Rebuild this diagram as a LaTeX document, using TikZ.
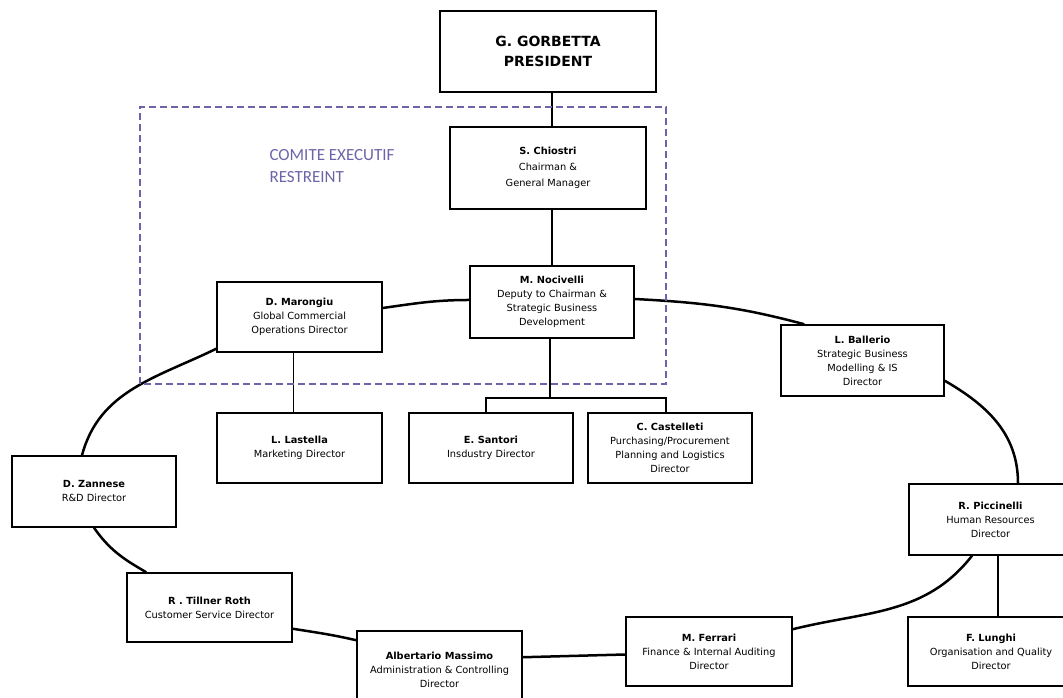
\documentclass[tikz,border=0pt]{standalone}
\usepackage{fontspec}
\setmainfont{DejaVu Sans}
\newfontfamily\comitefont{Carlito}
\definecolor{comite}{RGB}{108,100,168}

\begin{document}
\begin{tikzpicture}[x=1pt,y=1pt,
  box/.style={draw, line width=1.5pt, fill=white, align=center, inner sep=0pt,
    minimum width=165pt, minimum height=70pt, font=\fontsize{9.8}{14}\selectfont},
  ring/.style={line width=2.5pt},
  tree/.style={line width=1.5pt}]
\useasboundingbox (0,0) rectangle (1063,698);

% top of the chart
\node[box, minimum width=216pt, minimum height=81pt, font=\bfseries\fontsize{14}{20}\selectfont] (pres) at (548,646.5) {G. GORBETTA\\PRESIDENT};
\node[box, minimum width=196pt, minimum height=82pt, font=\fontsize{9.8}{16}\selectfont] (chio) at (548,530) {\textbf{S. Chiostri}\\Chairman \&\\General Manager};
\node[box, minimum width=164pt, minimum height=72pt] (noci) at (552,396) {\textbf{M. Nocivelli}\\Deputy to Chairman \&\\Strategic Business\\Development};
\node[box] (maro) at (299.5,381) {\textbf{D. Marongiu}\\Global Commercial\\Operations Director};

% second row
\node[box] (last) at (299.5,250) {\textbf{L. Lastella}\\Marketing Director};
\node[box, minimum width=164pt] (sant) at (491,250) {\textbf{E. Santori}\\Insdustry Director};
\node[box, minimum width=164pt] (cast) at (670,250) {\textbf{C. Castelleti}\\Purchasing/Procurement\\Planning and Logistics\\Director};

% round the ring
\node[box, minimum width=164pt, minimum height=71pt] (zann) at (94,206.5) {\textbf{D. Zannese}\\R\&D Director};
\node[box, minimum width=163pt, minimum height=71pt] (ball) at (862.5,337.5) {\textbf{L. Ballerio}\\Strategic Business\\Modelling \& IS\\Director};
\node[box, minimum width=163pt, minimum height=71pt] (picc) at (990.5,178.5) {\textbf{R. Piccinelli}\\Human Resources\\Director};
\node[box, minimum height=69pt] (till) at (209.5,90.5) {\textbf{R . Tillner Roth}\\Customer Service Director};
\node[box, minimum height=77pt] (mass) at (439.5,28.5) {\textbf{Albertario Massimo}\\Administration \& Controlling\\Director};
\node[box, minimum width=166pt, minimum height=69pt] (ferr) at (709,46.5) {\textbf{M. Ferrari}\\Finance \& Internal Auditing\\Director};
\node[box, minimum width=166pt, minimum height=69pt] (lung) at (991,46.5) {\textbf{F. Lunghi}\\Organisation and Quality\\Director};

% tree lines
\coordinate (fork) at ([xshift=-2pt]noci.south |- 0,300);
\draw[tree] (pres.south -| noci.north) -- (chio.north -| noci.north);
\draw[tree] (chio.south -| noci.north) -- (noci.north);
\draw[tree] ([xshift=-2pt]noci.south) -- (fork);
\draw[tree] ([xshift=-5pt]sant.north) |- ([xshift=-4pt]cast.north |- fork) -- ([xshift=-4pt]cast.north);
\draw[tree] ([xshift=-6pt]maro.south) -- ([xshift=-6pt]last.north);
\draw[tree] ([xshift=7.5pt]picc.south) -- ([xshift=7.5pt]picc.south |- lung.north);

% the ring
\draw[ring] ([yshift=2pt]noci.west) to[out=180,in=8] ([yshift=9pt]maro.east);
\draw[ring] ([yshift=4pt]maro.south west) to[out=206,in=75] ([xshift=-12pt]zann.north);
\draw[ring] (zann.south) to[out=-55,in=150] ([xshift=20pt]till.north west);
\draw[ring] ([yshift=14pt]till.south east) to[out=-9,in=167] ([yshift=-10pt]mass.north west);
\draw[ring] ([yshift=-27pt]mass.north east) -- ([yshift=-3pt]ferr.west);
\draw[ring] ([yshift=-13pt]ferr.north east) to[out=14,in=232] ([xshift=-18.5pt]picc.south);
\draw[ring] ([yshift=16pt]ball.south east) to[out=-30,in=90] ([xshift=27.5pt]picc.north);
\draw[ring] ([yshift=3pt]noci.east) to[out=-3,in=165] ([xshift=24pt]ball.north west);

% comite executif restreint
\draw[comite, line width=1.6pt, dash pattern=on 7pt off 4pt] (140,314) rectangle (666,591);
\node[comite, anchor=west, align=left, font=\comitefont\fontsize{17}{22}\selectfont] (comite) at (266,532) {COMITE EXECUTIF\\RESTREINT};
\end{tikzpicture}
\end{document}
